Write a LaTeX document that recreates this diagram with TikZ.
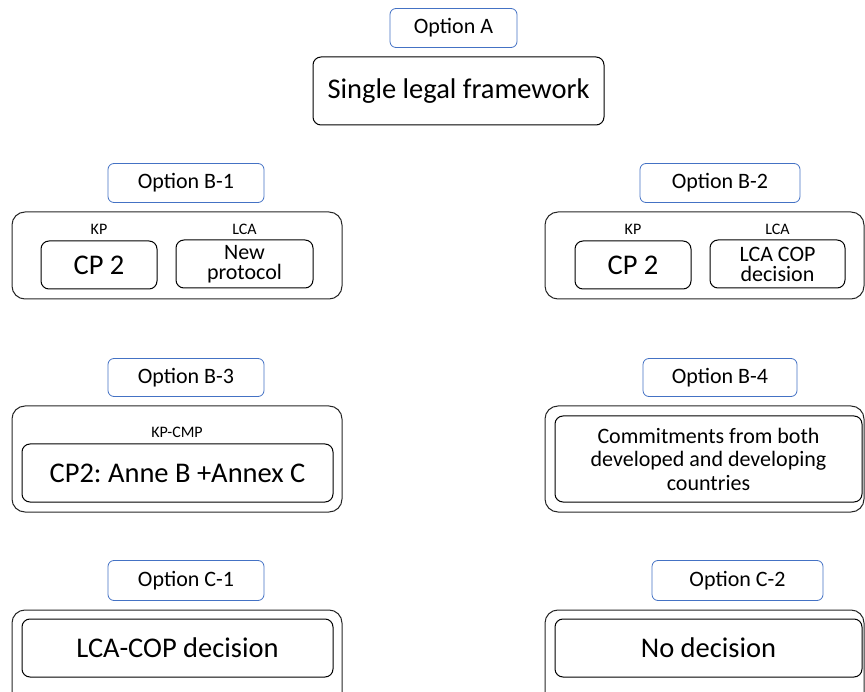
\documentclass[tikz,border=0pt]{standalone}
\usepackage{fontspec}
\setmainfont{Carlito}
\usetikzlibrary{positioning}
\frenchspacing
\definecolor{optblue}{RGB}{68,114,196}
\tikzset{
  opt/.style={draw=optblue,rounded corners=6pt,line width=0.8pt,inner sep=0pt,
    font=\fontsize{22}{24}\selectfont},
  kulso/.style={draw=black!85,rounded corners=13pt,line width=1pt,inner sep=0pt},
  belso/.style={draw,rounded corners=8pt,line width=1pt,inner sep=0pt,align=center},
  nagy/.style={font=\fontsize{28.5}{30}\selectfont},
  kozep/.style={font=\fontsize{22}{23.5}\selectfont},
  szuk/.style={font=\fontsize{22}{20}\selectfont},
  cim/.style={inner sep=0pt,font=\fontsize{16}{17}\selectfont},
}
\begin{document}
\begin{tikzpicture}[x=1pt,y=-1pt]
  \useasboundingbox (0,0) rectangle (865,692);
  % option A
  \node[opt,minimum width=127pt,minimum height=39pt] (optA) at (453.5,28) {Option A};
  \node[belso,nagy,minimum width=291pt,minimum height=68pt] (slf) at (458.5,91) {Single legal framework};
  % option B-1
  \node[opt,minimum width=156pt,minimum height=39pt] (optB1) at (186,183) {Option B-1};
  \node[kulso,minimum width=330pt,minimum height=87pt] (outB1) at (177,255.5) {};
  \node[belso,nagy,minimum width=116pt,minimum height=48pt] (cpB1) at (99,265) {CP 2};
  \node[belso,szuk,minimum width=137pt,minimum height=48pt] (npB1) at (244.5,264) {New\\protocol};
  \node[cim] (kpB1) at (99,229) {KP};
  \node[cim] (lcaB1) at (244.5,229) {LCA};
  % option B-2
  \node[opt,minimum width=160pt,minimum height=39pt] (optB2) at (720,183) {Option B-2};
  \node[kulso,minimum width=319pt,minimum height=87pt] (outB2) at (704.5,255.5) {};
  \node[belso,nagy,minimum width=116pt,minimum height=48pt] (cpB2) at (633,265) {CP 2};
  \node[belso,szuk,minimum width=135pt,minimum height=48pt] (decB2) at (777.5,264) {LCA COP\\decision};
  \node[cim] (kpB2) at (633,229) {KP};
  \node[cim] (lcaB2) at (777.5,229) {LCA};
  % option B-3
  \node[opt,minimum width=156pt,minimum height=38pt] (optB3) at (186,377.5) {Option B-3};
  \node[kulso,minimum width=330pt,minimum height=106pt] (outB3) at (177,459) {};
  \node[cim] (cmpB3) at (177,432) {KP-CMP};
  \node[belso,nagy,minimum width=311pt,minimum height=58pt] (annB3) at (177.5,473) {CP2: Anne B +Annex C};
  % option B-4
  \node[opt,minimum width=154pt,minimum height=38pt] (optB4) at (720,377.5) {Option B-4};
  \node[kulso,minimum width=319pt,minimum height=106pt] (outB4) at (704.5,459) {};
  \node[belso,kozep,minimum width=307pt,minimum height=86pt] (comB4) at (708.5,459)
    {Commitments from both\\developed and developing\\countries};
  % option C-1, C-2
  \node[opt,minimum width=156pt,minimum height=40pt] (optC1) at (186,580.5) {Option C-1};
  \node[kulso,minimum width=330pt,minimum height=100pt] (outC1) at (177,660) {};
  \node[belso,nagy,minimum width=311pt,minimum height=58pt] (decC1) at (177.5,648) {LCA-COP decision};
  \node[opt,minimum width=171pt,minimum height=40pt] (optC2) at (737.5,580.5) {Option C-2};
  \node[kulso,minimum width=319pt,minimum height=100pt] (outC2) at (704.5,660) {};
  \node[belso,nagy,minimum width=307pt,minimum height=58pt] (nodC2) at (708.5,648) {No decision};
\end{tikzpicture}
\end{document}
